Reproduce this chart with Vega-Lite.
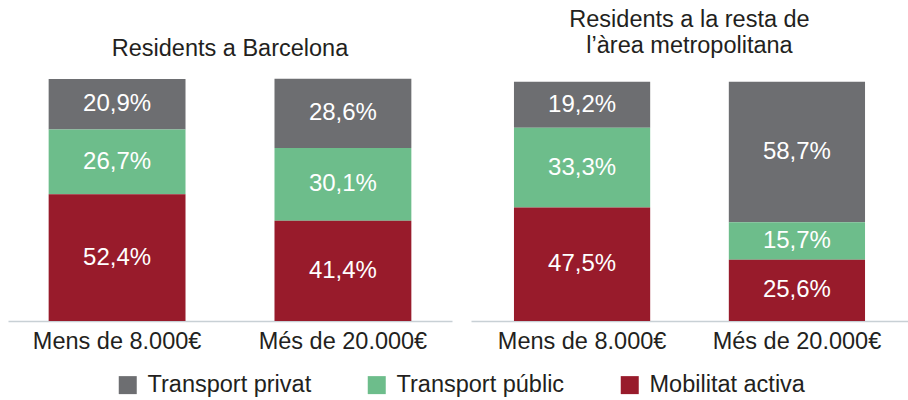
{
  "$schema": "https://vega.github.io/schema/vega-lite/v6.json",
  "background": "white",
  "padding": {"left": 8, "top": 7, "right": 0, "bottom": 0},
  "config": {
    "view": {"stroke": null},
    "font": "Liberation Sans",
    "locale": {"number": {"decimal": ",", "thousands": ".", "grouping": [3], "currency": ["", "€"]}},
    "title": {"fontSize": 23.5, "fontWeight": "normal", "color": "#231f20", "lineHeight": 26, "anchor": "middle"},
    "axisX": {"domainColor": "#c8d0d5", "domainWidth": 1.5, "ticks": false, "labelFontSize": 23.5, "labelColor": "#231f20", "labelPadding": 8, "labelAngle": 0, "grid": false, "labelLimit": 300},
    "legend": {"orient": "none", "legendX": 108, "legendY": 294, "direction": "horizontal", "title": null, "symbolType": "square", "symbolSize": 324, "labelFontSize": 23.5, "labelColor": "#231f20", "columnPadding": 53, "labelOffset": 8, "labelLimit": 300, "symbolStrokeWidth": 0, "padding": 0}
  },
  "data": {"values": [
    {"region": "Barcelona", "income": "Mens de 8.000€", "mode": "Transport privat", "k": 3, "value": 0.209},
    {"region": "Barcelona", "income": "Mens de 8.000€", "mode": "Transport públic", "k": 2, "value": 0.267},
    {"region": "Barcelona", "income": "Mens de 8.000€", "mode": "Mobilitat activa", "k": 1, "value": 0.524},
    {"region": "Barcelona", "income": "Més de 20.000€", "mode": "Transport privat", "k": 3, "value": 0.286},
    {"region": "Barcelona", "income": "Més de 20.000€", "mode": "Transport públic", "k": 2, "value": 0.301},
    {"region": "Barcelona", "income": "Més de 20.000€", "mode": "Mobilitat activa", "k": 1, "value": 0.414},
    {"region": "Resta", "income": "Mens de 8.000€", "mode": "Transport privat", "k": 3, "value": 0.192},
    {"region": "Resta", "income": "Mens de 8.000€", "mode": "Transport públic", "k": 2, "value": 0.333},
    {"region": "Resta", "income": "Mens de 8.000€", "mode": "Mobilitat activa", "k": 1, "value": 0.475},
    {"region": "Resta", "income": "Més de 20.000€", "mode": "Transport privat", "k": 3, "value": 0.587},
    {"region": "Resta", "income": "Més de 20.000€", "mode": "Transport públic", "k": 2, "value": 0.157},
    {"region": "Resta", "income": "Més de 20.000€", "mode": "Mobilitat activa", "k": 1, "value": 0.256}
  ]},
  "spacing": 19,
  "bounds": "flush",
  "resolve": {"scale": {"x": "independent", "y": "independent"}},
  "hconcat": [
    {
      "width": 444,
      "height": 242,
      "title": {"text": "Residents a Barcelona", "offset": 18},
      "transform": [{"filter": "datum.region === 'Barcelona'"}],
      "encoding": {
        "x": {"field": "income", "type": "nominal", "title": null, "sort": ["Mens de 8.000€", "Més de 20.000€"], "scale": {"paddingInner": 0.394, "paddingOuter": 0.18}}
      },
      "layer": [
        {
          "mark": {"type": "bar"},
          "encoding": {
            "y": {"field": "value", "type": "quantitative", "stack": "zero", "axis": null, "scale": {"domain": [0, 1], "nice": false}},
            "color": {"field": "mode", "type": "nominal", "scale": {"domain": ["Transport privat", "Transport públic", "Mobilitat activa"], "range": ["#6d6e71", "#6dbd8b", "#981b2b"]}},
            "order": {"field": "k"}
          }
        },
        {
          "mark": {"type": "text", "color": "white", "fontSize": 24},
          "encoding": {
            "y": {"field": "value", "type": "quantitative", "stack": "zero", "bandPosition": 0.5},
            "detail": {"field": "mode"},
            "order": {"field": "k"},
            "text": {"field": "value", "type": "quantitative", "format": ".1%"}
          }
        }
      ]
    },
    {
      "width": 437,
      "height": 242,
      "title": {"text": ["Residents a la resta de", "l’àrea metropolitana"], "offset": 22},
      "transform": [{"filter": "datum.region === 'Resta'"}],
      "encoding": {
        "x": {"field": "income", "type": "nominal", "title": null, "sort": ["Mens de 8.000€", "Més de 20.000€"], "scale": {"paddingInner": 0.366, "paddingOuter": 0.2}}
      },
      "layer": [
        {
          "mark": {"type": "bar"},
          "encoding": {
            "y": {"field": "value", "type": "quantitative", "stack": "zero", "axis": null, "scale": {"domain": [0, 1.012], "nice": false}},
            "color": {"field": "mode", "type": "nominal", "scale": {"domain": ["Transport privat", "Transport públic", "Mobilitat activa"], "range": ["#6d6e71", "#6dbd8b", "#981b2b"]}},
            "order": {"field": "k"}
          }
        },
        {
          "mark": {"type": "text", "color": "white", "fontSize": 24},
          "encoding": {
            "y": {"field": "value", "type": "quantitative", "stack": "zero", "bandPosition": 0.5},
            "detail": {"field": "mode"},
            "order": {"field": "k"},
            "text": {"field": "value", "type": "quantitative", "format": ".1%"}
          }
        }
      ]
    }
  ]
}
